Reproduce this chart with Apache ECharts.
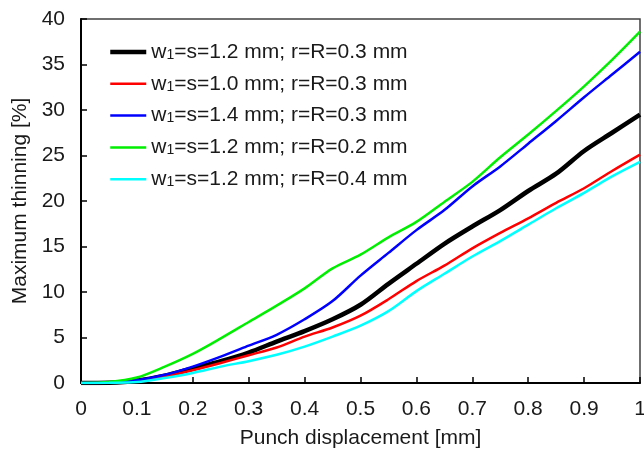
<!DOCTYPE html>
<html>
<head>
<meta charset="utf-8">
<script src="https://cdn.jsdelivr.net/npm/echarts@6/dist/echarts.min.js"></script>
<style>
  html, body { margin: 0; padding: 0; background: #fff; }
  #chart { width: 644px; height: 452px; }
</style>
</head>
<body>
<div id="chart"></div>
<script>
// Punch displacement [mm]
const displacement = [0, 0.05, 0.1, 0.15, 0.2, 0.25, 0.3, 0.35, 0.4, 0.45, 0.5, 0.55, 0.6, 0.65, 0.7, 0.75, 0.8, 0.85, 0.9, 0.95, 1.0];

// Maximum thinning [%]
const w12_r03 = [0, 0.03, 0.25, 0.8, 1.6, 2.4, 3.35, 4.55, 5.7, 7.0, 8.6, 10.9, 13.1, 15.3, 17.2, 19.0, 21.1, 23.0, 25.5, 27.5, 29.5];
const w10_r03 = [0, 0.03, 0.2, 0.7, 1.4, 2.2, 3.05, 3.9, 5.1, 6.1, 7.4, 9.2, 11.2, 12.9, 14.8, 16.5, 18.1, 19.8, 21.4, 23.3, 25.1];
const w14_r03 = [0, 0.03, 0.3, 0.9, 1.8, 2.9, 4.1, 5.3, 7.0, 9.0, 11.8, 14.3, 16.8, 19.0, 21.6, 23.8, 26.3, 28.8, 31.4, 33.9, 36.4];
const w12_r02 = [0, 0.1, 0.6, 1.8, 3.2, 4.9, 6.7, 8.5, 10.4, 12.6, 14.1, 16.0, 17.7, 19.9, 22.1, 24.8, 27.3, 29.9, 32.6, 35.5, 38.6];
const w12_r04 = [0, 0.02, 0.1, 0.55, 1.1, 1.8, 2.4, 3.1, 4.0, 5.1, 6.3, 7.9, 10.1, 12.0, 13.9, 15.6, 17.4, 19.2, 20.9, 22.7, 24.3];

const seriesNames = [
  'w{sub|1}=s=1.2 mm; r=R=0.3 mm',
  'w{sub|1}=s=1.0 mm; r=R=0.3 mm',
  'w{sub|1}=s=1.4 mm; r=R=0.3 mm',
  'w{sub|1}=s=1.2 mm; r=R=0.2 mm',
  'w{sub|1}=s=1.2 mm; r=R=0.4 mm'
];
const seriesData = [w12_r03, w10_r03, w14_r03, w12_r02, w12_r04];
const seriesColors = ['#000000', '#ff0000', '#0000ff', '#00ee00', '#00ffff'];
const seriesWidths = [4.5, 2.5, 2.5, 2.5, 2.5];

const xTicks = [0, 0.1, 0.2, 0.3, 0.4, 0.5, 0.6, 0.7, 0.8, 0.9, 1];
const yTicks = [0, 5, 10, 15, 20, 25, 30, 35, 40];

const FONT = '"Liberation Sans", Arial, sans-serif';
const chart = echarts.init(document.getElementById('chart'), null, { renderer: 'canvas' });

chart.setOption({
  animation: false,
  backgroundColor: '#ffffff',
  grid: {
    left: 81, right: 4, top: 19, bottom: 69,
    containLabel: false, outerBoundsMode: 'none',
    show: true, borderColor: '#404040', borderWidth: 1.5, backgroundColor: 'transparent'
  },
  legend: {
    orient: 'vertical',
    left: 108, top: 41.5, padding: 0,
    itemWidth: 36, itemHeight: 20, itemGap: 10.8,
    itemStyle: { opacity: 0 },
    textStyle: {
      fontFamily: FONT, fontSize: 21, color: '#1a1a1a', lineHeight: 20,
      rich: { sub: { fontFamily: FONT, fontSize: 14, lineHeight: 6, verticalAlign: 'bottom', color: '#1a1a1a' } }
    },
    data: seriesNames.map((n, i) => ({ name: n, lineStyle: { width: seriesWidths[i], color: seriesColors[i] } }))
  },
  xAxis: {
    type: 'value', min: 0, max: 1, interval: 0.1,
    name: 'Punch displacement [mm]', nameLocation: 'middle', nameGap: 45,
    nameTextStyle: { fontFamily: FONT, fontSize: 21, color: '#1a1a1a' },
    axisLine: { show: true, lineStyle: { color: '#000', width: 2 } },
    axisTick: { show: true, inside: true, length: 6, lineStyle: { color: '#000', width: 1.5 } },
    axisLabel: {
      fontFamily: FONT, fontSize: 21, color: '#1a1a1a', margin: 16,
      formatter: v => { const t = xTicks.find(k => Math.abs(k - v) < 1e-9); return t === undefined ? '' : String(t); }
    },
    splitLine: { show: false }
  },
  yAxis: {
    type: 'value', min: 0, max: 40, interval: 5,
    name: 'Maximum thinning [%]', nameLocation: 'middle', nameGap: 46, nameRotate: 90,
    nameTextStyle: { fontFamily: FONT, fontSize: 21, color: '#1a1a1a' },
    axisLine: { show: true, lineStyle: { color: '#000', width: 2 } },
    axisTick: { show: true, inside: true, length: 6, lineStyle: { color: '#000', width: 1.5 } },
    axisLabel: {
      fontFamily: FONT, fontSize: 21, color: '#1a1a1a', margin: 16,
      formatter: v => { const t = yTicks.find(k => Math.abs(k - v) < 1e-9); return t === undefined ? '' : String(t); }
    },
    splitLine: { show: false }
  },
  series: seriesNames.map((n, i) => ({
    name: n,
    type: 'line',
    data: displacement.map((x, j) => [x, seriesData[i][j]]),
    showSymbol: false, symbol: 'none',
    smooth: 0.3,
    clip: true,
    lineStyle: { color: seriesColors[i], width: seriesWidths[i] },
    itemStyle: { color: seriesColors[i] },
    z: 2 + i
  }))
});
</script>
</body>
</html>
